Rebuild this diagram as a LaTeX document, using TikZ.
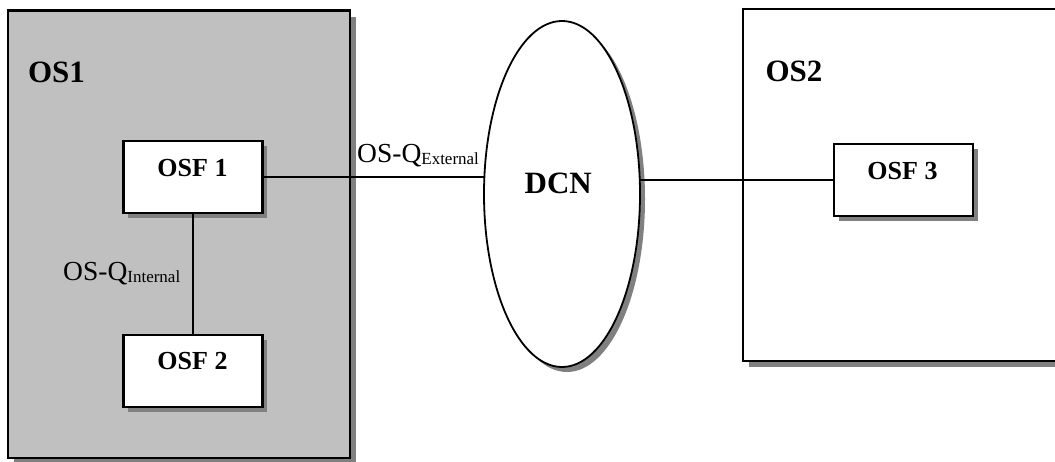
\documentclass[tikz,border=0pt]{standalone}
\usepackage{fontspec}
\setmainfont{Liberation Serif}
\usetikzlibrary{shapes.geometric,shadows}
\definecolor{osgray}{HTML}{C0C0C0}
\definecolor{shadowgray}{HTML}{808080}
\tikzset{
  shad/.style={drop shadow={shadow xshift=#1, shadow yshift=-#1, fill=shadowgray, opacity=1}},
  bigbox/.style={rectangle, draw, line width=2.4pt, inner sep=0pt, outer sep=0pt, shad=6pt},
  fbox/.style={rectangle, draw, fill=white, line width=2.4pt, inner sep=0pt, outer sep=0pt,
    minimum width=139pt, minimum height=71.5pt, shad=5pt},
  cloud/.style={ellipse, draw, fill=white, line width=1.8pt, inner sep=0pt, outer sep=0pt,
    minimum width=156pt, minimum height=346pt, shad=5pt},
  conn/.style={line width=1.5pt},
  biglbl/.style={font=\fontsize{31}{31}\selectfont\bfseries, inner sep=0pt, anchor=base},
  smlbl/.style={font=\fontsize{26}{26}\selectfont\bfseries, inner sep=0pt, anchor=base},
  iflbl/.style={font=\fontsize{27.5}{27.5}\selectfont, inner sep=0pt, anchor=base west},
}
\newcommand{\subtxt}[1]{\raisebox{-2pt}{\fontsize{17}{17}\selectfont #1}}
\begin{document}
\begin{tikzpicture}[x=1pt, y=-1pt]
  \clip (0,0) rectangle (1055,462);
  \fill[white] (0,0) rectangle (1055,462);
  % outer systems
  \node[bigbox, fill=osgray, minimum width=342pt, minimum height=447.3pt] (os1) at (179,234.35) {};
  \node[bigbox, fill=white, minimum width=322pt, minimum height=352pt] (os2) at (904,185) {};
  % DCN
  \node[cloud] (dcn) at (562,194) {};
  % functions
  \node[fbox] (osf1) at (192.8,177) {};
  \node[fbox] (osf2) at (192.8,371) {};
  \node[fbox] (osf3) at (903.5,180) {};
  % connectors
  \draw[conn] (osf1.south) -- (osf2.north);
  \draw[conn] (osf1.east) -- (osf1.east -| dcn.west);
  \draw[conn] (osf3.west -| dcn.east) -- (osf3.west);
  % labels
  \node[biglbl] (os1t) at (56.5,82.7) {OS1};
  \node[biglbl] (os2t) at (794,81.7) {OS2};
  \node[biglbl] (dcnt) at (558.2,194) {DCN};
  \node[smlbl] (osf1t) at (192.5,176.7) {OSF 1};
  \node[smlbl] (osf2t) at (192.5,370) {OSF 2};
  \node[smlbl] (osf3t) at (902.5,179.5) {OSF 3};
  \node[iflbl] (qext) at (357,163) {OS-Q\subtxt{External}};
  \node[iflbl] (qint) at (63,281) {OS-Q\subtxt{Internal}};
\end{tikzpicture}
\end{document}
